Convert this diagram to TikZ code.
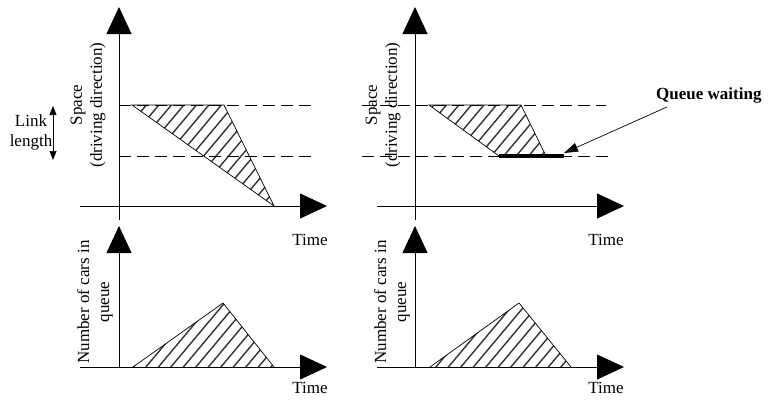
\documentclass[tikz,border=0pt]{standalone}
\usepackage{fontspec}
\setmainfont{Liberation Serif}
\usetikzlibrary{arrows.meta}

\begin{document}
\begin{tikzpicture}[x=1pt,y=-1pt,
        axis/.style = {line width=0.8pt,
            -{Triangle[length=27pt,width=25pt]}},
        level/.style = {line width=0.7pt,
            dash pattern=on 12pt off 6pt},
        hatch/.style = {line width=1.4pt, black!80},
        outline/.style = {line width=0.7pt},
        lbl/.style = {font=\fontsize{17}{20}\selectfont,
            inner sep=0pt}]

        \useasboundingbox (0,0) rectangle (768,400);

        % Hatched areas
        \begin{scope}
            \clip (132,105) -- (224,105) -- (274,206) -- cycle;
            \foreach \s in {0,12.5,...,320}
                \draw[hatch] (\s,220) -- ++(176,-210);
        \end{scope}
        \begin{scope}
            \clip (429,105) -- (521,105) -- (546,156) -- (499,156) -- cycle;
            \foreach \s in {300,312.5,...,600}
                \draw[hatch] (\s,220) -- ++(176,-210);
        \end{scope}
        \begin{scope}
            \clip (133,367) -- (223,303) -- (274,367) -- cycle;
            \foreach \s in {60,72.5,...,320}
                \draw[hatch] (\s,380) -- ++(176,-210);
        \end{scope}
        \begin{scope}
            \clip (430,367) -- (519,303) -- (571,367) -- cycle;
            \foreach \s in {350,362.5,...,620}
                \draw[hatch] (\s,380) -- ++(176,-210);
        \end{scope}

        % Shape outlines
        \draw[outline] (132,105) -- (224,105) -- (274,206) -- cycle;
        \draw[outline] (429,105) -- (521,105) -- (546,156) -- (499,156) -- cycle;
        \draw[outline] (133,367) -- (223,303) -- (274,367);
        \draw[outline] (430,367) -- (519,303) -- (571,367);

        % Link ends
        \draw[level] (119,105) -- (311,105);
        \draw[level] (119,156) -- (316,156);
        \draw[level] (362,105) -- (606,105);
        \draw[level] (362,156) -- (611,156);

        % Queue waiting
        \draw[line width=3.5pt] (499,156) -- (564,156);

        % Axes
        \draw[axis] (119,220) -- (119,7);
        \draw[axis] (80,206) -- (327,206);
        \draw[axis] (415,220) -- (415,7);
        \draw[axis] (377,206) -- (624,206);
        \draw[axis] (119,367) -- (119,226);
        \draw[axis] (80,367) -- (327,367);
        \draw[axis] (415,367) -- (415,226);
        \draw[axis] (377,367) -- (624,367);

        % Axis labels
        \node[lbl,rotate=90,align=center] (space1) at (88,105)
            {Space\\(driving direction)};
        \node[lbl,rotate=90,align=center] (space2) at (383,105)
            {Space\\(driving direction)};
        \node[lbl,rotate=90,align=center] (cars1) at (95,302)
            {Number of cars in\\queue};
        \node[lbl,rotate=90,align=center] (cars2) at (392,302)
            {Number of cars in\\queue};
        \node[lbl] (time1) at (310,240) {Time};
        \node[lbl] (time2) at (606,240) {Time};
        \node[lbl] (time3) at (310,388) {Time};
        \node[lbl] (time4) at (606,388) {Time};

        % Link length
        \node[lbl,align=center] (link) at (31,132) {Link\\length};
        \coordinate (ltop) at (53,106);
        \coordinate (lbot) at (53,160);
        \draw[line width=0.7pt,
            {Triangle[length=9pt,width=7pt]}-{Triangle[length=9pt,width=7pt]}]
            (ltop) -- (lbot);

        % Queue waiting label
        \node[lbl,font={\fontsize{17}{20}\selectfont\bfseries},anchor=west]
            (queue) at (656,95) {Queue waiting};
        \coordinate (qtip) at (564,153);
        \draw[line width=0.7pt,-{Triangle[length=14pt,width=9pt]}]
            ([shift={(11,4)}]queue.south west) -- (qtip);

    \end{tikzpicture}
\end{document}
